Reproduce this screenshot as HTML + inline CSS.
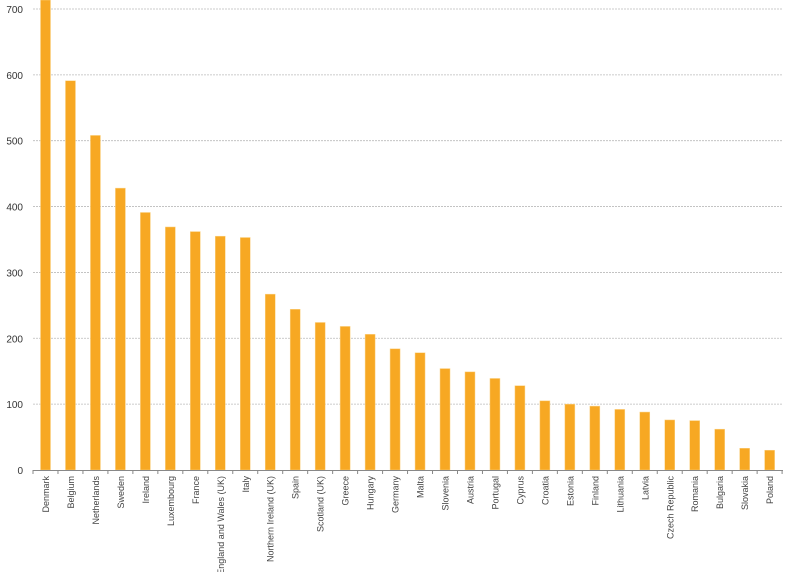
<!DOCTYPE html>
<html><head><meta charset="utf-8"><style>
html,body{margin:0;padding:0;background:#fff;}
svg{display:block;font-family:"Liberation Sans",sans-serif;}
</style></head><body>
<svg id="c" width="785" height="572" xmlns="http://www.w3.org/2000/svg"></svg>
<script>
var d=[["Denmark",740],["Belgium",591],["Netherlands",508],["Sweden",428],["Ireland",391],["Luxembourg",369],["France",362],["England and Wales (UK)",355],["Italy",353],["Northern Ireland (UK)",267],["Spain",244],["Scotland (UK)",224],["Greece",218],["Hungary",206],["Germany",184],["Malta",178],["Slovenia",154],["Austria",149],["Portugal",139],["Cyprus",128],["Croatia",105],["Estonia",100],["Finland",97],["Lithuania",92],["Latvia",88],["Czech Republic",76],["Romania",75],["Bulgaria",62],["Slovakia",33],["Poland",30]];
var y0=470,k=0.6586,s="";
for(var v=100;v<=700;v+=100){var y=y0-v*k;s+='<line x1="33" x2="783" y1="'+y+'" y2="'+y+'" stroke="#bbb" stroke-width="0.8" stroke-dasharray="2,1"/>';}
for(var v=0;v<=700;v+=100){var y=y0-v*k;s+='<text x="23" y="'+(y+4)+'" font-size="10" fill="#333" text-anchor="end">'+v+'</text>';}
d.forEach(function(e,i){var cx=45.5+i*24.97,h=e[1]*k,top=Math.max(0,y0-h);
s+='<rect x="'+(cx-5)+'" y="'+top+'" width="10" height="'+(y0-top)+'" fill="#f7a823" stroke="#fbd48a" stroke-width="0.5"/>';
s+='<text transform="translate('+(cx+3.5)+',476) rotate(-90)" font-size="9" fill="#444" text-anchor="end">'+e[0]+'</text>';});
for(var i=0;i<=30;i++){var x=33+i*24.97;s+='<line x1="'+x+'" x2="'+x+'" y1="470" y2="474" stroke="#888"/>';}
s+='<line x1="33" x2="783" y1="470.5" y2="470.5" stroke="#888"/>';
document.getElementById("c").innerHTML=s;
</script>
</body></html>
